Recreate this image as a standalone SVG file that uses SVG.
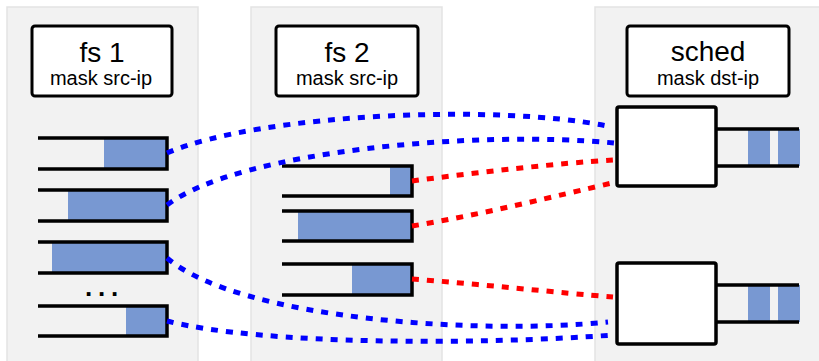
<svg xmlns="http://www.w3.org/2000/svg" width="819" height="361" viewBox="0 0 819 361">
<style>
.panel{fill:#f2f2f2;stroke:#e3e3e3;stroke-width:1.5}
.lbl{fill:#fff;stroke:#000;stroke-width:3}
.t1{font-family:"Liberation Sans",Arial,sans-serif;font-size:28px;text-anchor:middle;fill:#000}
.t2{font-family:"Liberation Sans",Arial,sans-serif;font-size:20px;text-anchor:middle;fill:#000}
.q{fill:none;stroke:#000;stroke-width:3.5}
.qf{fill:#7898d2}
.box{fill:#fff;stroke:#000;stroke-width:3.5}
.blue{fill:none;stroke:#0000ff;stroke-width:5;stroke-dasharray:7 8}
.red{fill:none;stroke:#ff0000;stroke-width:5;stroke-dasharray:7 8}
</style>
<rect width="819" height="361" fill="#fff"/>
<g id="fs1">
<rect class="panel" x="7" y="7" width="191" height="360"/>
<rect class="lbl" x="32" y="26" width="140" height="70" rx="3"/>
<text class="t1" x="102" y="62">fs 1</text>
<text class="t2" x="101" y="85">mask src-ip</text>
<rect class="qf" x="104" y="138" width="63" height="31"/>
<path class="q" d="M38,138H167V169H38"/>
<rect class="qf" x="68" y="190" width="99" height="31"/>
<path class="q" d="M38,190H167V221H38"/>
<rect class="qf" x="52" y="242" width="115" height="31"/>
<path class="q" d="M38,242H167V273H38"/>
<text x="85" y="296" font-family="Liberation Sans, Arial, sans-serif" font-size="26" font-weight="bold" letter-spacing="5.8">...</text>
<rect class="qf" x="126" y="306" width="41" height="30"/>
<path class="q" d="M38,306H167V336H38"/>
</g>
<g id="fs2">
<rect class="panel" x="251" y="7" width="191" height="360"/>
<rect class="lbl" x="276" y="26" width="142" height="70" rx="3"/>
<text class="t1" x="347" y="62">fs 2</text>
<text class="t2" x="347" y="85">mask src-ip</text>
<rect class="qf" x="390" y="166" width="22" height="30"/>
<path class="q" d="M282,166H412V196H282"/>
<rect class="qf" x="298" y="211" width="114" height="30"/>
<path class="q" d="M282,211H412V241H282"/>
<rect class="qf" x="352" y="264" width="60" height="31"/>
<path class="q" d="M282,264H412V295H282"/>
</g>
<g id="sched">
<rect class="panel" x="595" y="7" width="230" height="360"/>
<rect class="lbl" x="627" y="26" width="162" height="70" rx="3"/>
<text class="t1" x="708" y="61">sched</text>
<text class="t2" x="708" y="85">mask dst-ip</text>
<rect class="qf" x="748" y="129" width="22" height="37"/>
<rect class="qf" x="778" y="129" width="22" height="37"/>
<path class="q" d="M716,129H799M716,166H799"/>
<rect class="box" x="617" y="107" width="99" height="79" rx="2"/>
<rect class="qf" x="748" y="285" width="22" height="37"/>
<rect class="qf" x="778" y="285" width="22" height="37"/>
<path class="q" d="M716,285H799M716,322H799"/>
<rect class="box" x="617" y="263" width="99" height="81" rx="2"/>
</g>
<g id="connectors">
<path class="blue" d="M167,153C260,113 500,104 607,126"/>
<path class="blue" d="M167,205C240,150 480,130 614,143"/>
<path class="blue" d="M167,258C240,320 480,335 608,322"/>
<path class="blue" d="M167,321C260,345 480,345 613,335"/>
<path class="red" d="M412,181C480,172 560,163 613,160"/>
<path class="red" d="M412,226C480,215 560,195 612,183"/>
<path class="red" d="M412,279C480,284 560,293 613,297"/>
</g>
</svg>
